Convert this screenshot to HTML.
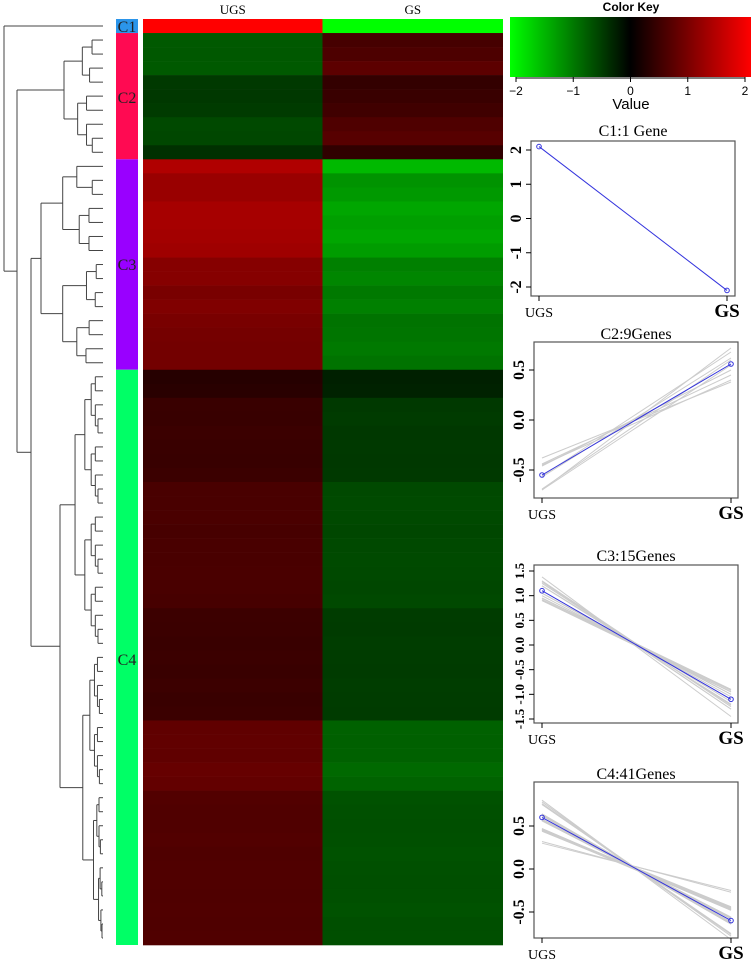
<!DOCTYPE html>
<html><head><meta charset="utf-8"><style>
html,body{margin:0;padding:0;background:#fff;}
svg{display:block;}
</style></head><body>
<svg id="fig" width="752" height="966" viewBox="0 0 752 966" xmlns="http://www.w3.org/2000/svg">
<defs>
<linearGradient id="keygrad" x1="0" x2="1" y1="0" y2="0">
<stop offset="0" stop-color="#00ff00"/><stop offset="0.5" stop-color="#000000"/><stop offset="1" stop-color="#ff0000"/>
</linearGradient>
</defs>
</svg>
<script>
// ---- data ----
const sampleLabels = ["UGS","GS"];
const clusterNames = ["C1","C2","C3","C4"];
const clusterColors = ["#2b95ea","#ff0a52","#9900ff","#00ff66"];
const c1UGS = [2.1];
const c1GS = [-2.1];
const c2UGS = [-0.70,-0.69,-0.70,-0.45,-0.44,-0.46,-0.57,-0.56,-0.38];
const c2GS = [0.55,0.60,0.72,0.40,0.45,0.50,0.62,0.68,0.38];
const c3UGS = [1.38,1.20,1.20,1.30,1.30,1.28,1.25,1.05,1.05,0.95,1.00,0.95,0.92,0.90,0.90];
const c3GS = [-1.45,-1.15,-1.20,-1.30,-1.25,-1.30,-1.22,-1.00,-1.05,-0.95,-1.00,-0.90,-0.92,-0.95,-0.90];
const c4UGS = [0.30,0.32,0.45,0.44,0.46,0.45,0.44,0.46,0.57,0.57,0.58,0.56,0.57,0.57,0.58,0.57,0.56,0.47,0.46,0.45,0.46,0.45,0.47,0.45,0.46,0.75,0.76,0.75,0.80,0.78,0.64,0.63,0.63,0.64,0.62,0.63,0.63,0.62,0.63,0.62,0.63];
const c4GS = [-0.25,-0.27,-0.45,-0.46,-0.44,-0.45,-0.44,-0.45,-0.57,-0.58,-0.57,-0.56,-0.57,-0.58,-0.57,-0.56,-0.57,-0.47,-0.46,-0.48,-0.47,-0.46,-0.48,-0.47,-0.46,-0.76,-0.75,-0.76,-0.82,-0.78,-0.64,-0.63,-0.62,-0.63,-0.64,-0.63,-0.62,-0.63,-0.64,-0.62,-0.62];
const meanUGS = [2.1,-0.55,1.1,0.6];
const meanGS = [-2.1,0.56,-1.1,-0.6];
const chartTitles = ["C1:1 Gene","C2:9Genes","C3:15Genes","C4:41Genes"];
const ticksC1 = [2,1,0,-1,-2];
const tickLabelsC1 = ["2","1","0","-1","-2"];
const ticksC2 = [0.5,0,-0.5];
const tickLabelsC2 = ["0.5","0.0","-0.5"];
const ticksC3 = [1.5,1,0.5,0,-0.5,-1,-1.5];
const tickLabelsC3 = ["1.5","1.0","0.5","0.0","-0.5","-1.0","-1.5"];
const ticksC4 = [0.5,0,-0.5];
const tickLabelsC4 = ["0.5","0.0","-0.5"];
const keyTicks = [-2,-1,0,1,2];
const keyTickLabels = ["\u22122","\u22121","0","1","2"];

const NS="http://www.w3.org/2000/svg";
const svg=document.getElementById('fig');
function mk(tag,attrs,parent){const e=document.createElementNS(NS,tag);for(const k in attrs)e.setAttribute(k,attrs[k]);(parent||svg).appendChild(e);return e;}
function col(v){const t=Math.min(1,Math.abs(v)/2);const c=Math.round(t*255);return v>=0?`rgb(${c},0,0)`:`rgb(0,${c},0)`;}

const UGS=[].concat(c1UGS,c2UGS,c3UGS,c4UGS);
const GS=[].concat(c1GS,c2GS,c3GS,c4GS);
const sizes=[c1UGS.length,c2UGS.length,c3UGS.length,c4UGS.length];
const top0=19, bottom0=945, hx0=143, hx1=322.5, hx2=503;
const rowH=(bottom0-top0)/UGS.length;
const rowY=i=>top0+i*rowH;

// heatmap
const hm=mk('g',{});


for(let i=0;i<UGS.length;i++){
  const a=mk('rect',{x:hx0,y:rowY(i),width:hx1-hx0,height:rowH+0.3,fill:col(UGS[i])},hm);
  
  
  const b=mk('rect',{x:hx1,y:rowY(i),width:hx2-hx1,height:rowH+0.3,fill:col(GS[i])},hm);
  
  
}
sampleLabels.forEach((s,j)=>{
  const t=mk('text',{x:j?(hx1+hx2)/2:(hx0+hx1)/2,y:14,'text-anchor':'middle','font-family':'Liberation Serif, serif','font-size':13},svg);
  t.textContent=s;
  
  
});

// cluster side bar
let start=0;
const labelYs=[26,97,264,659];
sizes.forEach((n,k)=>{
  const r=mk('rect',{x:116,y:rowY(start),width:22,height:n*rowH,fill:clusterColors[k]});
  
  
  const t=mk('text',{x:127,y:labelYs[k]+6,'text-anchor':'middle','font-family':'Liberation Serif, serif','font-size':16,fill:'#222'});
  t.textContent=clusterNames[k];
  
  
  start+=n;
});

// dendrogram
const dg=mk('g',{stroke:'#444','stroke-width':1,fill:'none'});


const leafX=103;
function seg(x1,y1,x2,y2){mk('line',{x1,y1,x2,y2},dg);}
function sub(a,b,x){
  if(b-a===1) return rowY(a)+rowH/2;
  const m=Math.floor((a+b)/2);
  const cx1=x+(leafX-x)*(0.35+0.3*((a*7)%5)/5);
  const cx2=x+(leafX-x)*(0.35+0.3*((b*3)%5)/5);
  const y1=sub(a,m,cx1), y2=sub(m,b,cx2);
  const e1=(m-a===1)?leafX:cx1, e2=(b-m===1)?leafX:cx2;
  seg(x,y1,x,y2);seg(x,y1,e1,y1);seg(x,y2,e2,y2);
  return (y1+y2)/2;
}
const yC2=sub(1,10,64), yC3=sub(10,25,41), yC4=sub(25,66,60);
const yC1=rowY(0)+rowH/2;
seg(31,yC3,31,yC4);seg(31,yC3,41,yC3);seg(31,yC4,60,yC4);
const yD=(yC3+yC4)/2;
seg(17,yC2,17,yD);seg(17,yC2,64,yC2);seg(17,yD,31,yD);
const yB=(yC2+yD)/2;
seg(4,yC1,4,yB);seg(4,yC1,leafX,yC1);seg(4,yB,17,yB);

// color key
const kg=mk('g',{});


mk('rect',{x:510,y:17,width:241,height:60,fill:'url(#keygrad)'},kg);
const kt=mk('text',{x:631,y:11,'text-anchor':'middle','font-family':'Liberation Sans, sans-serif','font-size':12,'font-weight':'bold'},kg);
kt.textContent='Color Key';
const kx=v=>516+(v+2)/4*(745-516);
keyTicks.forEach((v,i)=>{
  mk('line',{x1:kx(v),y1:77,x2:kx(v),y2:82,stroke:'#000'},kg);
  const t=mk('text',{x:kx(v),y:95,'text-anchor':'middle','font-family':'Liberation Sans, sans-serif','font-size':12},kg);
  t.textContent=keyTickLabels[i];
  
  
});
mk('line',{x1:kx(-2),y1:78,x2:kx(2),y2:78,stroke:'#000'},kg);
const kv=mk('text',{x:631,y:109,'text-anchor':'middle','font-family':'Liberation Sans, sans-serif','font-size':15},kg);
kv.textContent='Value';

// line charts
const charts=[
 {u:c1UGS,g:c1GS,ticks:ticksC1,labels:tickLabelsC1,bx0:531,bx1:735,by0:141,by1:296,yT:2,pT:150,yB:-2,pB:287,ux:539,gx:727,title:130,gray:false,fs:16},
 {u:c2UGS,g:c2GS,ticks:ticksC2,labels:tickLabelsC2,bx0:534,bx1:738,by0:342,by1:498,yT:0.5,pT:370,yB:-0.5,pB:470,ux:542,gx:731,title:333,gray:true,fs:16},
 {u:c3UGS,g:c3GS,ticks:ticksC3,labels:tickLabelsC3,bx0:534,bx1:738,by0:565,by1:723,yT:1.5,pT:571,yB:-1.5,pB:719,ux:542,gx:731,title:555,gray:true,fs:13},
 {u:c4UGS,g:c4GS,ticks:ticksC4,labels:tickLabelsC4,bx0:534,bx1:738,by0:782,by1:938,yT:0.5,pT:826,yB:-0.5,pB:912,ux:542,gx:731,title:773,gray:true,fs:16}
];
charts.forEach((c,k)=>{
  const g=mk('g',{});
  
  
  const ys=v=>c.pT+(v-c.yT)*(c.pB-c.pT)/(c.yB-c.yT);
  const tt=mk('text',{x:(c.bx0+c.bx1)/2,y:c.title+6,'text-anchor':'middle','font-family':'Liberation Serif, serif','font-size':16},g);
  tt.textContent=chartTitles[k];
  
  
  if(c.gray){
    c.u.forEach((v,i)=>{
      const l=mk('line',{x1:c.ux,y1:ys(v),x2:c.gx,y2:ys(c.g[i]),stroke:'#cccccc','stroke-width':1},g);
      
      
    });
  }
  const ml=mk('line',{x1:c.ux,y1:ys(meanUGS[k]),x2:c.gx,y2:ys(meanGS[k]),stroke:'#3333dd','stroke-width':1},g);
  
  
  [[c.ux,meanUGS[k]],[c.gx,meanGS[k]]].forEach(p=>{
    const pt=mk('circle',{cx:p[0],cy:ys(p[1]),r:2.3,fill:'none',stroke:'#3333dd','stroke-width':1},g);
    
    
  });
  mk('rect',{x:c.bx0,y:c.by0,width:c.bx1-c.bx0,height:c.by1-c.by0,fill:'none',stroke:'#555','stroke-width':1.2},g);
  c.ticks.forEach((v,i)=>{
    const y=ys(v);
    mk('line',{x1:c.bx0-5,y1:y,x2:c.bx0,y2:y,stroke:'#000'},g);
    const t=mk('text',{x:c.bx0-10,y:y,'text-anchor':'middle','font-family':'Liberation Serif, serif','font-size':c.fs,'font-weight':'bold',transform:`rotate(-90 ${c.bx0-10} ${y})`},g);
    t.textContent=c.labels[i];
    
    
  });
  [c.ux,c.gx].forEach((x,i)=>{
    mk('line',{x1:x,y1:c.by1,x2:x,y2:c.by1+5,stroke:'#000'},g);
    const t=mk('text',{x:x,y:c.by1+21,'text-anchor':'middle','font-family':'Liberation Serif, serif','font-size':i?19:14,'font-weight':i?'bold':'normal'},g);
    t.textContent=sampleLabels[i];
    
    
  });
});
</script>
</body></html>
